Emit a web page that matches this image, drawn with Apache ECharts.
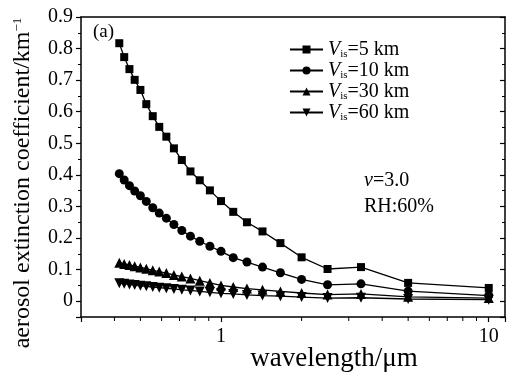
<!DOCTYPE html>
<html>
<head>
<meta charset="utf-8">
<script src="https://cdn.jsdelivr.net/npm/echarts@6/dist/echarts.min.js"></script>
<style>
  html, body { margin: 0; padding: 0; background: #fff; }
  #ech { width: 507px; height: 372px; }
</style>
</head>
<body>
<div id="ech"></div>
<script>
// wavelength in um (same points for every curve)
var wavelengths = [0.417, 0.435, 0.455, 0.476, 0.5, 0.526, 0.556, 0.588, 0.625, 0.667, 0.714, 0.769,
                   0.833, 0.909, 1, 1.111, 1.25, 1.429, 1.667, 2, 2.5, 3.333, 5, 10];
// extinction coefficient, km^-1
var vis5  = [0.817, 0.773, 0.735, 0.701, 0.669, 0.624, 0.586, 0.552, 0.521, 0.484, 0.447, 0.411,
             0.383, 0.351, 0.317, 0.283, 0.250, 0.221, 0.184, 0.139, 0.102, 0.108, 0.058, 0.042];
var vis10 = [0.404, 0.384, 0.366, 0.349, 0.334, 0.316, 0.296, 0.279, 0.263, 0.243, 0.224, 0.206,
             0.190, 0.174, 0.158, 0.138, 0.124, 0.108, 0.090, 0.069, 0.052, 0.055, 0.032, 0.018];
var vis30 = [0.122, 0.118, 0.115, 0.111, 0.107, 0.103, 0.098, 0.094, 0.089, 0.083, 0.078, 0.072,
             0.065, 0.058, 0.050, 0.045, 0.040, 0.036, 0.031, 0.026, 0.021, 0.023, 0.014, 0.010];
var vis60 = [0.057, 0.055, 0.053, 0.051, 0.049, 0.047, 0.045, 0.043, 0.041, 0.039, 0.036, 0.034,
             0.031, 0.028, 0.025, 0.023, 0.020, 0.018, 0.016, 0.013, 0.010, 0.011, 0.007, 0.005];
var seriesNames = ['5 km', '10 km', '30 km', '60 km'];
var xLabels = [1, 10];
var xMinorTicks = [0.4, 0.5, 0.6, 0.7, 0.8, 0.9, 2, 3, 4, 5, 6, 7, 8, 9];

var FONT = '"Liberation Serif", "Times New Roman", serif';

function pairs(ys) {
    return wavelengths.map(function (w, i) { return [w, ys[i]]; });
}

function lineSeries(name, ys, symbol, size, rotate) {
    return {
        name: name,
        type: 'line',
        data: pairs(ys),
        symbol: symbol,
        symbolSize: size,
        symbolRotate: rotate || 0,
        showSymbol: true,
        lineStyle: { color: '#000', width: 1.3 },
        itemStyle: { color: '#000' },
        emphasis: { disabled: true },
        z: 3
    };
}

var myChart = echarts.init(document.getElementById('ech'));
var option = {
    animation: false,
    backgroundColor: '#fff',
    textStyle: { fontFamily: FONT, color: '#000' },
    grid: { left: 81, right: 2, top: 17, bottom: 55, containLabel: false, outerBoundsMode: 'none' },
    legend: {
        data: seriesNames,
        orient: 'vertical',
        left: 289,
        top: 39,
        padding: 0,
        itemWidth: 33,
        itemHeight: 10,
        itemGap: 0,
        selectedMode: false,
        textStyle: {
            fontFamily: FONT, fontSize: 20, color: '#000', lineHeight: 21,
            rich: {
                v: { fontFamily: FONT, fontSize: 20, fontStyle: 'italic', color: '#000', lineHeight: 21 },
                s: { fontFamily: FONT, fontSize: 11, color: '#000', verticalAlign: 'bottom', padding: [9, 0, 0, 0] },
                t: { fontFamily: FONT, fontSize: 20, color: '#000', lineHeight: 21 }
            }
        },
        formatter: function (name) {
            return '{v|V}{s|is}{t|=' + name + '}';
        }
    },
    xAxis: [{
        type: 'log',
        logBase: 10,
        min: 0.3,
        max: 11.5,
        position: 'bottom',
        name: 'wavelength/μm',
        nameLocation: 'middle',
        nameGap: 28,
        nameMoveOverlap: false,
        nameTextStyle: { fontFamily: FONT, fontSize: 27, color: '#000', padding: [0, 0, 0, 82] },
        axisLine: { onZero: false, lineStyle: { color: '#000', width: 1.5 } },
        axisTick: { show: true, inside: false, length: 5, lineStyle: { color: '#000', width: 1.2 } },
        axisLabel: {
            margin: 10,
            fontFamily: FONT, fontSize: 20, color: '#000',
            formatter: function (v) {
                for (var i = 0; i < xLabels.length; i++) {
                    if (Math.abs(v - xLabels[i]) < 1e-6 * xLabels[i]) return String(xLabels[i]);
                }
                return '';
            }
        },
        splitLine: { show: false }
    }, {
        type: 'log',
        logBase: 10,
        min: 0.3,
        max: 11.5,
        position: 'top',
        axisLine: { onZero: false, lineStyle: { color: '#000', width: 1.5 } },
        axisTick: { show: false },
        axisLabel: { show: false },
        splitLine: { show: false }
    }],
    yAxis: [{
        type: 'value',
        min: -0.05,
        max: 0.9,
        splitNumber: 9,
        name: 'aerosol extinction coefficient/km{sup|−1}',
        nameLocation: 'middle',
        nameRotate: 90,
        nameGap: 46,
        nameMoveOverlap: false,
        nameTextStyle: {
            fontFamily: FONT, fontSize: 24, color: '#000', padding: [0, 32, 0, 0],
            rich: { sup: { fontFamily: FONT, fontSize: 13, color: '#000', verticalAlign: 'top', padding: [0, 0, 10, 0] } }
        },
        axisLine: { show: true, onZero: false, lineStyle: { color: '#000', width: 1.5 } },
        axisTick: { show: true, inside: false, length: 5, lineStyle: { color: '#000', width: 1.2 } },
        minorTick: { show: true, splitNumber: 2, length: 3, lineStyle: { color: '#000', width: 1 } },
        axisLabel: {
            showMinLabel: false,
            margin: 8,
            fontFamily: FONT, fontSize: 20, color: '#000',
            formatter: function (v) {
                if (v < -1e-9) return '';
                var r = Math.round(v * 10) / 10;
                return r === 0 ? '0' : r.toFixed(1);
            }
        },
        splitLine: { show: false }
    }, {
        type: 'value',
        min: -0.05,
        max: 0.9,
        splitNumber: 9,
        position: 'right',
        axisLine: { show: true, onZero: false, lineStyle: { color: '#000', width: 1.5 } },
        axisTick: { show: true, inside: true, length: 5, lineStyle: { color: '#000', width: 1.2 } },
        minorTick: { show: true, splitNumber: 2, length: 3, lineStyle: { color: '#000', width: 1 } },
        axisLabel: { show: false },
        splitLine: { show: false }
    }],
    graphic: [
        { type: 'text', left: 93, top: 23, style: { text: '(a)', font: '19px ' + FONT, fill: '#000' } },
        { type: 'text', left: 364, top: 171, style: { text: '{n|ν}=3.0', font: '20px ' + FONT, fill: '#000',
            rich: { n: { font: 'italic 20px ' + FONT, fill: '#000' } } } },
        { type: 'text', left: 364, top: 197, style: { text: 'RH:60%', font: '20px ' + FONT, fill: '#000' } }
    ],
    series: [
        lineSeries(seriesNames[0], vis5, 'rect', 8),
        lineSeries(seriesNames[1], vis10, 'circle', 9),
        lineSeries(seriesNames[2], vis30, 'triangle', 10),
        lineSeries(seriesNames[3], vis60, 'triangle', 10, 180),
        {
            // minor ticks of the log axis (0.4 ... 0.9, 2 ... 9)
            type: 'custom',
            silent: true,
            clip: false,
            data: xMinorTicks.map(function (v) { return [v, -0.05]; }),
            encode: { x: 0, y: 1 },
            renderItem: function (params, api) {
                var p = api.coord([api.value(0), api.value(1)]);
                return {
                    type: 'line',
                    shape: { x1: p[0], y1: p[1], x2: p[0], y2: p[1] + 4 },
                    style: { stroke: '#000', lineWidth: 1 }
                };
            },
            z: 4
        }
    ]
};
myChart.setOption(option);
</script>
</body>
</html>
